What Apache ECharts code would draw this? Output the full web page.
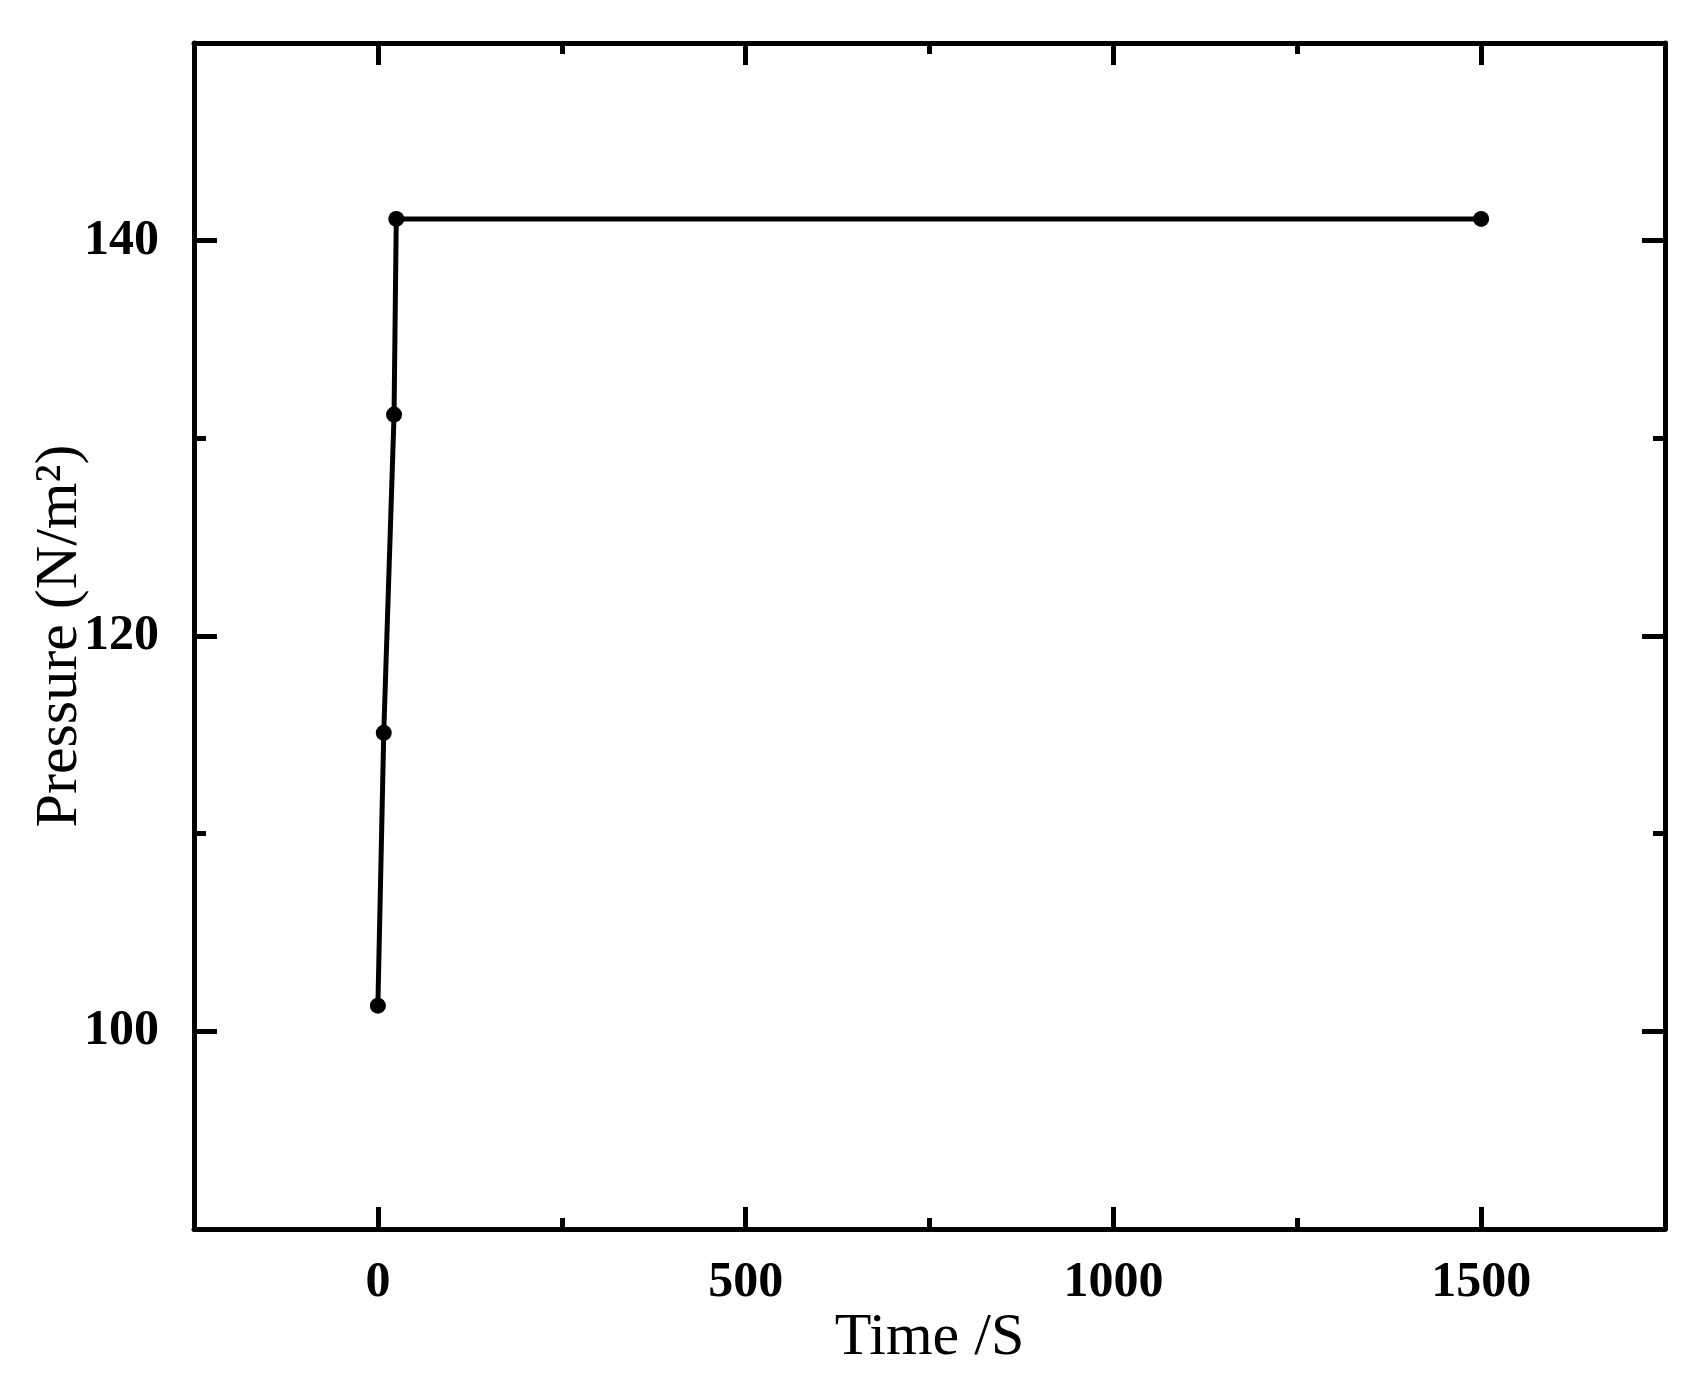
<!DOCTYPE html>
<html>
<head>
<meta charset="utf-8">
<script src="https://cdn.jsdelivr.net/npm/echarts@6/dist/echarts.min.js"></script>
<style>
html,body{margin:0;padding:0;background:#fff;}
#chart{width:1697px;height:1380px;}
</style>
</head>
<body>
<div id="chart"></div>
<script>
// Data
var timeValues = [0, 8, 22, 25, 1500];
var pressureValues = [101.3, 115.1, 131.2, 141.1, 141.1];
var xMajorTicks = [0, 500, 1000, 1500];
var xMinorTicks = [250, 750, 1250];
var yMajorTicks = [100, 120, 140];
var yMinorTicks = [110, 130];
var xTitle = 'Time /S';
var yTitle = 'Pressure (N/m\u00B2)';

var FONT = '"Liberation Serif", "Times New Roman", serif';
var LW = 5;
var xRange = {min: -250, max: 1750};
var yRange = {min: 90, max: 150};

function plain(v) { return String(v); }

function xAxisDef(pos, ticks, len, showLine, labels, name) {
  return {
    type: 'value', position: pos, min: xRange.min, max: xRange.max,
    axisLine: {show: showLine, onZero: false, lineStyle: {color: '#000', width: LW}},
    axisTick: {show: true, inside: true, length: len, customValues: ticks, lineStyle: {color: '#000', width: LW}},
    axisLabel: labels ? {show: true, customValues: ticks, formatter: plain, margin: 29, color: '#000', fontFamily: FONT, fontWeight: 'bold', fontSize: 50} : {show: false},
    splitLine: {show: false},
    name: name || '', nameLocation: 'middle', nameGap: 79, nameMoveOverlap: false,
    nameTextStyle: {color: '#000', fontFamily: FONT, fontSize: 60}
  };
}
function yAxisDef(pos, ticks, len, showLine, labels, name) {
  return {
    type: 'value', position: pos, min: yRange.min, max: yRange.max,
    axisLine: {show: showLine, onZero: false, lineStyle: {color: '#000', width: LW}},
    axisTick: {show: true, inside: true, length: len, customValues: ticks, lineStyle: {color: '#000', width: LW}},
    axisLabel: labels ? {show: true, customValues: ticks, formatter: plain, margin: 35, color: '#000', fontFamily: FONT, fontWeight: 'bold', fontSize: 50} : {show: false},
    splitLine: {show: false},
    name: name || '', nameLocation: 'middle', nameGap: 104, nameRotate: 90, nameMoveOverlap: false,
    nameTextStyle: {color: '#000', fontFamily: FONT, fontSize: 60}
  };
}

var seriesData = timeValues.map(function (t, i) { return [t, pressureValues[i]]; });

var chart = echarts.init(document.getElementById('chart'), null, {renderer: 'canvas'});
chart.setOption({
  backgroundColor: '#fff',
  animation: false,
  grid: {left: 194, right: 32, top: 43, bottom: 151, containLabel: false},
  xAxis: [
    xAxisDef('bottom', xMajorTicks, 22, true, true, xTitle),
    xAxisDef('bottom', xMinorTicks, 11, false, false),
    xAxisDef('top', xMajorTicks, 22, true, false),
    xAxisDef('top', xMinorTicks, 11, false, false)
  ],
  yAxis: [
    yAxisDef('left', yMajorTicks, 23, true, true, yTitle),
    yAxisDef('left', yMinorTicks, 12, false, false),
    yAxisDef('right', yMajorTicks, 23, true, false),
    yAxisDef('right', yMinorTicks, 12, false, false)
  ],
  series: [{
    type: 'line',
    xAxisIndex: 0, yAxisIndex: 0,
    data: seriesData,
    symbol: 'circle', symbolSize: 16,
    lineStyle: {color: '#000', width: LW},
    itemStyle: {color: '#000'}
  }]
});
</script>
</body>
</html>
